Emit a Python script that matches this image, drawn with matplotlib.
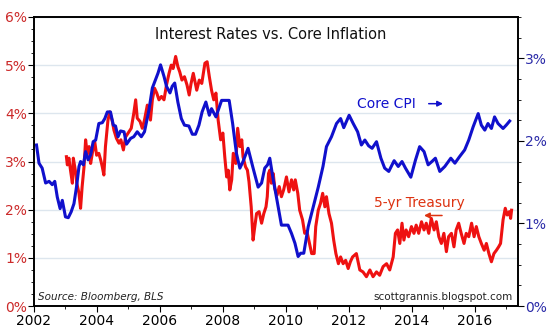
import matplotlib
matplotlib.use('Agg')
import matplotlib.pyplot as plt
from matplotlib.ticker import MultipleLocator, FuncFormatter

# core CPI, y/y % (right axis)
cpi_year = [2002.08, 2002.16, 2002.26, 2002.37, 2002.48, 2002.58, 2002.66, 2002.74, 2002.83, 2002.90,
            2003.00, 2003.09, 2003.18, 2003.27, 2003.35, 2003.43, 2003.48, 2003.57, 2003.64, 2003.72,
            2003.80, 2003.88, 2003.96, 2004.06, 2004.17, 2004.25, 2004.33, 2004.43, 2004.52, 2004.59,
            2004.67, 2004.75, 2004.86, 2004.94, 2005.07, 2005.17, 2005.28, 2005.41, 2005.51, 2005.65,
            2005.76, 2005.86, 2005.94, 2006.02, 2006.13, 2006.21, 2006.32, 2006.39, 2006.47, 2006.57,
            2006.68, 2006.78, 2006.92, 2007.03, 2007.13, 2007.24, 2007.34, 2007.46, 2007.57, 2007.64,
            2007.78, 2007.96, 2008.20, 2008.31, 2008.43, 2008.54, 2008.64, 2008.80, 2008.96, 2009.12,
            2009.23, 2009.33, 2009.42, 2009.49, 2009.60, 2009.72, 2009.86, 2010.07, 2010.18, 2010.29,
            2010.39, 2010.47, 2010.57, 2010.71, 2010.87, 2011.03, 2011.18, 2011.29, 2011.45, 2011.61,
            2011.74, 2011.84, 2012.01, 2012.14, 2012.28, 2012.40, 2012.51, 2012.63, 2012.74, 2012.88,
            2013.02, 2013.14, 2013.27, 2013.44, 2013.57, 2013.69, 2013.80, 2013.97, 2014.12, 2014.25,
            2014.39, 2014.52, 2014.64, 2014.75, 2014.89, 2015.05, 2015.24, 2015.37, 2015.52, 2015.68,
            2015.81, 2015.95, 2016.11, 2016.21, 2016.32, 2016.42, 2016.53, 2016.63, 2016.74, 2016.90,
            2017.00, 2017.11]
cpi_val = [1.95, 1.73, 1.67, 1.49, 1.51, 1.47, 1.51, 1.32, 1.18, 1.28,
           1.08, 1.07, 1.14, 1.24, 1.44, 1.69, 1.75, 1.71, 1.87, 1.77,
           1.83, 1.99, 2.01, 2.21, 2.22, 2.27, 2.35, 2.35, 2.19, 2.18,
           2.05, 2.12, 2.11, 1.96, 2.03, 2.05, 2.11, 2.05, 2.11, 2.37,
           2.64, 2.74, 2.82, 2.92, 2.78, 2.66, 2.58, 2.66, 2.70, 2.47,
           2.27, 2.19, 2.18, 2.08, 2.08, 2.19, 2.35, 2.47, 2.31, 2.39,
           2.29, 2.49, 2.49, 2.21, 1.85, 1.67, 1.75, 1.91, 1.67, 1.44,
           1.49, 1.67, 1.71, 1.79, 1.53, 1.28, 0.98, 0.98, 0.88, 0.76,
           0.60, 0.64, 0.64, 0.96, 1.20, 1.44, 1.69, 1.93, 2.05, 2.21,
           2.27, 2.16, 2.31, 2.21, 2.11, 1.95, 2.01, 1.94, 1.91, 1.99,
           1.79, 1.67, 1.63, 1.76, 1.69, 1.75, 1.67, 1.56, 1.77, 1.93,
           1.87, 1.71, 1.75, 1.79, 1.63, 1.69, 1.79, 1.73, 1.81, 1.89,
           2.01, 2.17, 2.33, 2.19, 2.13, 2.21, 2.15, 2.29, 2.21, 2.15,
           2.19, 2.24]

# 5-yr treasury yield, % (left axis)
ust_year = [2003.03, 2003.06, 2003.11, 2003.16, 2003.22, 2003.25, 2003.32, 2003.36, 2003.43, 2003.48,
            2003.53, 2003.59, 2003.64, 2003.69, 2003.75, 2003.80, 2003.86, 2003.93, 2003.99, 2004.06,
            2004.12, 2004.17, 2004.22, 2004.27, 2004.35, 2004.41, 2004.49, 2004.54, 2004.62, 2004.70,
            2004.76, 2004.84, 2004.91, 2005.02, 2005.09, 2005.17, 2005.23, 2005.28, 2005.37, 2005.44,
            2005.51, 2005.60, 2005.65, 2005.70, 2005.76, 2005.83, 2005.90, 2005.97, 2006.05, 2006.13,
            2006.21, 2006.29, 2006.36, 2006.42, 2006.50, 2006.57, 2006.63, 2006.70, 2006.78, 2006.86,
            2006.93, 2006.99, 2007.06, 2007.17, 2007.25, 2007.33, 2007.43, 2007.50, 2007.57, 2007.64,
            2007.71, 2007.78, 2007.85, 2007.93, 2008.00, 2008.06, 2008.12, 2008.17, 2008.22, 2008.28,
            2008.33, 2008.41, 2008.47, 2008.54, 2008.60, 2008.64, 2008.72, 2008.78, 2008.83, 2008.90,
            2008.96, 2009.00, 2009.07, 2009.15, 2009.23, 2009.30, 2009.37, 2009.41, 2009.45, 2009.49,
            2009.54, 2009.60, 2009.65, 2009.72, 2009.79, 2009.86, 2009.93, 2010.02, 2010.10, 2010.18,
            2010.25, 2010.30, 2010.38, 2010.44, 2010.53, 2010.60, 2010.67, 2010.73, 2010.82, 2010.90,
            2010.95, 2011.03, 2011.10, 2011.17, 2011.24, 2011.29, 2011.37, 2011.45, 2011.52, 2011.59,
            2011.67, 2011.74, 2011.82, 2011.90, 2011.98, 2012.05, 2012.12, 2012.24, 2012.35, 2012.45,
            2012.56, 2012.67, 2012.77, 2012.88, 2012.98, 2013.09, 2013.20, 2013.30, 2013.41, 2013.48,
            2013.55, 2013.62, 2013.69, 2013.75, 2013.82, 2013.90, 2013.99, 2014.07, 2014.14, 2014.22,
            2014.31, 2014.39, 2014.46, 2014.54, 2014.62, 2014.71, 2014.78, 2014.86, 2014.94, 2015.02,
            2015.10, 2015.17, 2015.26, 2015.34, 2015.41, 2015.49, 2015.57, 2015.66, 2015.73, 2015.81,
            2015.90, 2015.98, 2016.05, 2016.13, 2016.21, 2016.30, 2016.37, 2016.45, 2016.53, 2016.61,
            2016.69, 2016.76, 2016.82, 2016.90, 2016.97, 2017.03, 2017.10, 2017.14, 2017.17]
ust_val = [3.10, 2.93, 3.07, 2.82, 2.55, 3.07, 2.79, 2.55, 2.34, 2.03,
           2.48, 2.89, 3.45, 3.17, 3.31, 2.96, 3.20, 3.41, 3.13, 3.17,
           3.03, 2.89, 2.72, 3.31, 3.86, 4.03, 3.83, 3.65, 3.48, 3.38,
           3.45, 3.24, 3.51, 3.62, 3.69, 4.00, 4.28, 3.90, 3.83, 3.69,
           3.86, 4.17, 4.00, 3.86, 4.28, 4.52, 4.42, 4.28, 4.35, 4.28,
           4.59, 4.83, 5.00, 4.93, 5.18, 4.97, 4.86, 4.69, 4.76, 4.59,
           4.38, 4.62, 4.83, 4.48, 4.69, 4.62, 5.04, 5.07, 4.76, 4.48,
           4.28, 4.42, 3.86, 3.45, 3.59, 3.10, 2.68, 2.82, 2.41, 2.62,
           3.17, 2.96, 3.69, 3.31, 3.45, 3.10, 2.89, 2.82, 2.58, 2.06,
           1.37, 1.58, 1.92, 1.96, 1.72, 1.92, 2.06, 2.27, 2.75, 2.82,
           2.55, 2.75, 2.44, 2.30, 2.48, 2.27, 2.41, 2.68, 2.37, 2.62,
           2.41, 2.62, 2.34, 1.99, 1.79, 1.51, 1.55, 1.37, 1.09, 1.09,
           1.65, 1.99, 2.13, 2.34, 2.06, 2.27, 1.92, 1.72, 1.37, 1.09,
           0.88, 1.02, 0.88, 0.95, 0.78, 0.92, 1.02, 1.09, 0.75, 0.71,
           0.61, 0.75, 0.61, 0.71, 0.64, 0.82, 0.88, 0.75, 1.02, 1.51,
           1.58, 1.30, 1.72, 1.37, 1.58, 1.44, 1.65, 1.51, 1.68, 1.51,
           1.75, 1.58, 1.72, 1.51, 1.82, 1.58, 1.75, 1.44, 1.30, 1.51,
           1.13, 1.44, 1.51, 1.23, 1.58, 1.72, 1.51, 1.30, 1.51, 1.44,
           1.72, 1.44, 1.65, 1.44, 1.30, 1.16, 1.30, 1.09, 0.92, 1.09,
           1.16, 1.23, 1.30, 1.79, 2.03, 1.89, 1.96, 1.82, 1.99]

left_ticks = [0, 1, 2, 3, 4, 5, 6]
right_ticks = [0, 1, 2, 3]
year_ticks = [2002, 2004, 2006, 2008, 2010, 2012, 2014, 2016]

RED = '#ee1111'
BLUE = '#1010cc'

plt.rcParams['font.family'] = ['DejaVu Sans']
fig = plt.figure(figsize=(5.48, 3.32), dpi=100)
ax = fig.add_axes([0.062, 0.078, 0.883, 0.871])
ax2 = ax.twinx()

ax.plot(ust_year, ust_val, color=RED, lw=2.2, solid_joinstyle='round')
ax2.plot(cpi_year, cpi_val, color=BLUE, lw=2.2, solid_joinstyle='round')

ax.set_xlim(2002, 2017.37)
ax.set_ylim(0, 6)
ax2.set_ylim(0, 3.5)

ax.set_yticks(left_ticks)
ax.yaxis.set_minor_locator(MultipleLocator(0.25))
ax.yaxis.set_major_formatter(FuncFormatter(lambda v, p: '%d%%' % v))
ax2.set_yticks(right_ticks)
ax2.yaxis.set_minor_locator(MultipleLocator(0.25))
ax2.yaxis.set_major_formatter(FuncFormatter(lambda v, p: '%d%%' % v))
ax.set_xticks(year_ticks)
ax.xaxis.set_minor_locator(MultipleLocator(1))

ax.grid(axis='y', color='#dde6ee', lw=1.0)
ax.set_axisbelow(True)

ax.tick_params(axis='y', which='major', labelsize=10, labelcolor='#cc2a2a', length=4, width=0.8, pad=1)
ax.tick_params(axis='y', which='minor', length=2.5, width=0.6)
ax.tick_params(axis='x', which='major', labelsize=10, length=4, width=0.8, pad=2)
ax.tick_params(axis='x', which='minor', length=2.5, width=0.6)
ax2.tick_params(axis='y', which='major', labelsize=10, labelcolor='#2a2aa8', length=4, width=0.8, pad=1)
ax2.tick_params(axis='y', which='minor', length=2.5, width=0.6)

for a in (ax, ax2):
    for s in a.spines.values():
        s.set_linewidth(1.2)

ax.text(0.49, 0.94, 'Interest Rates vs. Core Inflation', transform=ax.transAxes,
        ha='center', va='center', fontsize=10.5, color='#111111')

# labels with arrows pointing to their axis
ax.text(2012.25, 4.2, 'Core CPI', color=BLUE, fontsize=10, ha='left', va='center')
ax.annotate('', xy=(2015.08, 4.2), xytext=(2014.45, 4.2),
            arrowprops=dict(arrowstyle='-|>', color=BLUE, lw=1.1, mutation_scale=8))
ax.text(2012.8, 2.14, '5-yr Treasury', color='#dd3311', fontsize=10, ha='left', va='center')
ax.annotate('', xy=(2014.3, 1.88), xytext=(2015.05, 1.88),
            arrowprops=dict(arrowstyle='-|>', color='#dd3311', lw=1.1, mutation_scale=8))

ax.text(0.009, 0.032, 'Source: Bloomberg, BLS', transform=ax.transAxes, fontsize=7.5,
        style='italic', ha='left', va='center', color='#222222')
ax.text(0.99, 0.032, 'scottgrannis.blogspot.com', transform=ax.transAxes, fontsize=7.5,
        ha='right', va='center', color='#222222')

fig.savefig('out.png', dpi=100)
